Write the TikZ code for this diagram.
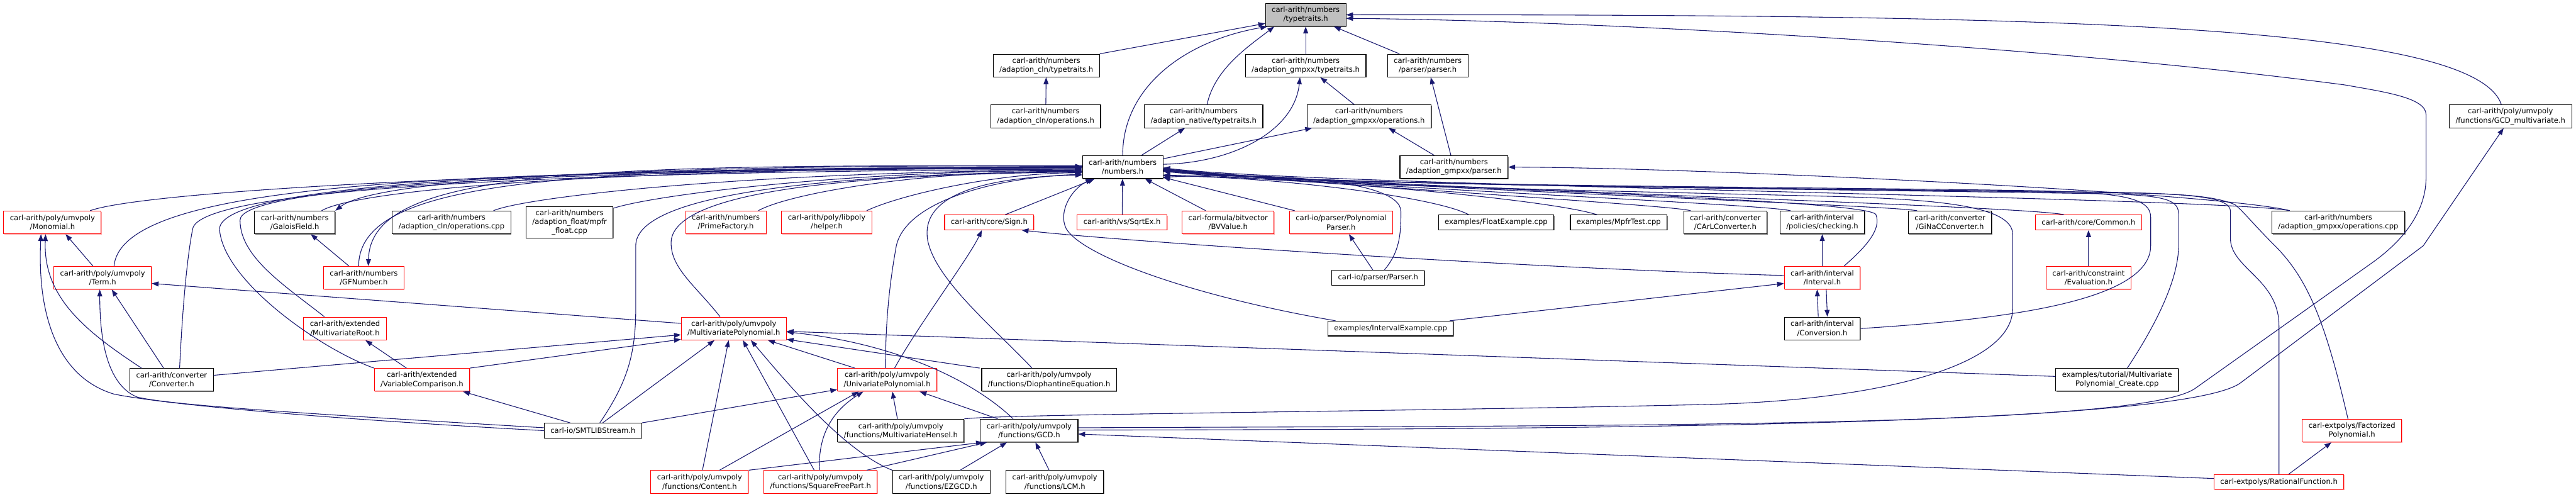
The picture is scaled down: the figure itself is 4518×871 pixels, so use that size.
\documentclass[tikz,border=0pt]{standalone}
\usepackage{fontspec}
\setmainfont{DejaVu Sans}
\usetikzlibrary{calc, arrows.meta, shadows}
\definecolor{navyedge}{RGB}{25,25,112}
\newcommand{\doxfont}{\fontsize{9.6pt}{11.8pt}\selectfont}
\tikzset{
  box/.style={line width=0.9pt, fill=white, align=center, inner xsep=8.25pt, inner ysep=0pt, minimum height=30pt, font=\doxfont},
  file/.style={box, draw=black, drop shadow={shadow xshift=0.9pt, shadow yshift=-0.9pt, fill=black!55, opacity=1}},
  redfile/.style={box, draw=red, drop shadow={shadow xshift=0.9pt, shadow yshift=-0.9pt, fill=red!35, opacity=1}},
  oneline/.style={minimum height=19.5pt},
  threeline/.style={minimum height=41pt},
  edge/.style={draw=navyedge, line width=0.9pt, -{Triangle[length=9pt,width=6.5pt]}},
}
\begin{document}
\begin{tikzpicture}[x=0.75pt, y=0.75pt]
    \fill[white] (0,0) rectangle (4518,871);
    \useasboundingbox (0,0) rectangle (4518,871);

    % Upper levels
    \node[file, fill=black!25] (tt) at (2290,845) {carl-arith/numbers\\/typetraits.h};
    \node[file] (clntt) at (1835,756) {carl-arith/numbers\\/adaption\_cln/typetraits.h};
    \node[file] (gmptt) at (2290,756) {carl-arith/numbers\\/adaption\_gmpxx/typetraits.h};
    \node[file] (parserh) at (2504,756) {carl-arith/numbers\\/parser/parser.h};
    \node[file] (clnops) at (1834,667) {carl-arith/numbers\\/adaption\_cln/operations.h};
    \node[file] (nattt) at (2111,667) {carl-arith/numbers\\/adaption\_native/typetraits.h};
    \node[file] (gmpops) at (2401,667) {carl-arith/numbers\\/adaption\_gmpxx/operations.h};
    \node[file] (gcdmv) at (4403,667) {carl-arith/poly/umvpoly\\/functions/GCD\_multivariate.h};
    \node[file] (num) at (1969,578) {carl-arith/numbers\\/numbers.h};
    \node[file] (gmpparser) at (2550,578) {carl-arith/numbers\\/adaption\_gmpxx/parser.h};

    % Row of direct includers
    \node[redfile] (mono) at (92,481) {carl-arith/poly/umvpoly\\/Monomial.h};
    \node[file] (gf) at (517,481) {carl-arith/numbers\\/GaloisField.h};
    \node[file] (clnopscpp) at (792,481) {carl-arith/numbers\\/adaption\_cln/operations.cpp};
    \node[file, threeline] (mpfr) at (999,481) {carl-arith/numbers\\/adaption\_float/mpfr\\\_float.cpp};
    \node[redfile] (prime) at (1273,481) {carl-arith/numbers\\/PrimeFactory.h};
    \node[redfile] (helper) at (1450,481) {carl-arith/poly/libpoly\\/helper.h};
    \node[redfile, oneline] (sign) at (1735,481) {carl-arith/core/Sign.h};
    \node[redfile, oneline] (sqrtex) at (1968,481) {carl-arith/vs/SqrtEx.h};
    \node[redfile] (bvvalue) at (2154,481) {carl-formula/bitvector\\/BVValue.h};
    \node[redfile] (polyparser) at (2352,481) {carl-io/parser/Polynomial\\Parser.h};
    \node[file, oneline] (floatex) at (2624,481) {examples/FloatExample.cpp};
    \node[file, oneline] (mpfrtest) at (2839,481) {examples/MpfrTest.cpp};
    \node[file] (carlconv) at (3026,481) {carl-arith/converter\\/CArLConverter.h};
    \node[file] (checking) at (3196,481) {carl-arith/interval\\/policies/checking.h};
    \node[file] (ginac) at (3420,481) {carl-arith/converter\\/GiNaCConverter.h};
    \node[redfile, oneline] (common) at (3663,481) {carl-arith/core/Common.h};
    \node[file] (gmpopscpp) at (4101,481) {carl-arith/numbers\\/adaption\_gmpxx/operations.cpp};

    % Lower levels
    \node[redfile] (term) at (180,384) {carl-arith/poly/umvpoly\\/Term.h};
    \node[redfile] (gfn) at (638,384) {carl-arith/numbers\\/GFNumber.h};
    \node[file, oneline] (parser) at (2417,384) {carl-io/parser/Parser.h};
    \node[redfile] (interval) at (3196,384) {carl-arith/interval\\/Interval.h};
    \node[redfile] (eval) at (3663,384) {carl-arith/constraint\\/Evaluation.h};
    \node[redfile] (mvroot) at (605,295) {carl-arith/extended\\/MultivariateRoot.h};
    \node[redfile] (mvpoly) at (1287,295) {carl-arith/poly/umvpoly\\/MultivariatePolynomial.h};
    \node[file, oneline] (intex) at (2439,295) {examples/IntervalExample.cpp};
    \node[file] (conversion) at (3196,295) {carl-arith/interval\\/Conversion.h};
    \node[file] (conv) at (301,205) {carl-arith/converter\\/Converter.h};
    \node[redfile] (varcomp) at (740,205) {carl-arith/extended\\/VariableComparison.h};
    \node[redfile] (upoly) at (1556,205) {carl-arith/poly/umvpoly\\/UnivariatePolynomial.h};
    \node[file] (dioph) at (1840,205) {carl-arith/poly/umvpoly\\/functions/DiophantineEquation.h};
    \node[file] (create) at (3713,205) {examples/tutorial/Multivariate\\Polynomial\_Create.cpp};
    \node[file, oneline] (smtlib) at (1040,116) {carl-io/SMTLIBStream.h};
    \node[file] (hensel) at (1580,116) {carl-arith/poly/umvpoly\\/functions/MultivariateHensel.h};
    \node[file] (gcd) at (1805,116) {carl-arith/poly/umvpoly\\/functions/GCD.h};
    \node[redfile] (factpoly) at (4125,116) {carl-extpolys/Factorized\\Polynomial.h};
    \node[redfile] (content) at (1227,26) {carl-arith/poly/umvpoly\\/functions/Content.h};
    \node[redfile] (sqfree) at (1439,26) {carl-arith/poly/umvpoly\\/functions/SquareFreePart.h};
    \node[file] (ezgcd) at (1651,26) {carl-arith/poly/umvpoly\\/functions/EZGCD.h};
    \node[file] (lcm) at (1850,26) {carl-arith/poly/umvpoly\\/functions/LCM.h};
    \node[redfile, oneline] (ratfun) at (3997,26) {carl-extpolys/RationalFunction.h};

    % Edges around typetraits.h
    \draw[edge] (clntt.north east) -- (tt.192);
    \draw[edge] (num.north) .. controls (1969,720) and (2080,800) .. (tt.197);
    \draw[edge] ($(nattt.north)+(6,0)$) .. controls (2130,750) and (2190,790) .. ($(tt.south west)+(16,0)$);
    \draw[edge] (gmptt) -- (tt);
    \draw[edge] (parserh) -- (tt);
    \draw[edge] ($(gcdmv.north)+(-16,0)$) .. controls (4340,830) and (3600,846) .. (tt.east);
    \draw[edge] (clnops) -- (clntt);
    \draw[edge] (num) -- (nattt);
    \draw[edge] (num) -- (gmpops);
    \draw[edge] (num.4) .. controls (2160,585) and (2270,640) .. ($(gmptt.south)+(-10,0)$);
    \draw[edge] (gmpops) -- (gmptt);
    \draw[edge] (gmpparser) -- (gmpops);
    \draw[edge] (gmpparser) -- (parserh);
    \draw[edge] ($(gcd.east)+(0,5)$) .. controls (2800,125) and (3750,120) .. (3850,190) -- (4160,410) .. controls (4215,449) and (4255,500) .. (4255,560) -- (4255,670) .. controls (4255,700) and (4180,710) .. (4113,722) .. controls (3600,790) and (2800,835) .. (tt.355);
    \draw[edge] ($(gcd.east)+(0,1)$) .. controls (2800,118) and (3830,125) .. (3930,200) -- (4250,440) -- ($(gcdmv.south)+(-12,0)$);

    % Left bundle into numbers.h
    \draw[edge] ($(mono.north)+(66,0)$) .. controls (250,535) and (900,575) .. (num.179);
    \draw[edge] ($(term.north)+(20,0)$) .. controls (215,560) and (850,572) .. (num.181);
    \draw[edge] ($(conv.north)+(14,0)$) .. controls (320,330) and (328,420) .. (338,470) .. controls (350,530) and (800,570) .. (num.183);
    \draw[edge] (varcomp.north west) .. controls (560,260) and (390,380) .. (385,470) .. controls (390,545) and (900,578) .. (num.180);
    \draw[edge] ($(mvroot.north)+(-36,0)$) .. controls (500,370) and (421,420) .. (421,485) .. controls (421,540) and (900,575) .. (num.182);
    \draw[edge] ($(gf.north east)+(-24,0)$) .. controls (620,535) and (1000,575) .. (num.180);
    \draw[edge] (num.178) .. controls (1000,582) and (650,550) .. (gf.north east);
    \draw[edge] ($(gfn.north)+(-9,0)$) .. controls (630,560) and (1000,578) .. (num.181);
    \draw[edge] (num.179) .. controls (1000,585) and (650,570) .. ($(gfn.north)+(8,0)$);
    \draw[edge] ($(gfn.north)+(-26,0)$) -- ($(gf.south)+(28,0)$);
    \draw[edge] ($(clnopscpp.north east)+(-31,0)$) .. controls (920,525) and (1300,570) .. (num.184);
    \draw[edge] ($(mpfr.north east)+(0,-3)$) .. controls (1150,530) and (1500,573) .. (num.185);
    \draw[edge] ($(prime.north)+(57,0)$) .. controls (1380,530) and (1600,572) .. (num.186);
    \draw[edge] ($(helper.north)+(70,0)$) .. controls (1580,530) and (1750,568) .. (num.188);
    \draw[edge] ($(smtlib.north)+(12,0)$) .. controls (1100,200) and (1115,250) .. (1115,330) -- (1115,440) .. controls (1115,525) and (1400,565) .. (num.186);
    \draw[edge] ($(mvpoly.north)+(-24,0)$) .. controls (1220,370) and (1177,400) .. (1177,445) .. controls (1177,530) and (1450,565) .. (num.187);
    \draw[edge] ($(upoly.north)+(-3,0)$) .. controls (1553,330) and (1565,400) .. (1572,440) .. controls (1590,520) and (1750,560) .. (num.190);
    \draw[edge] ($(dioph.north)+(-30,0)$) .. controls (1750,290) and (1640,380) .. (1627,450) .. controls (1615,520) and (1700,560) .. (num.191);

    % Below numbers.h
    \draw[edge] ($(sign.north)+(28,0)$) -- ($(num.south west)+(22,0)$);
    \draw[edge] (sqrtex) -- (num);
    \draw[edge] (bvvalue) -- (num);
    \draw[edge] (polyparser) -- (num);
    \draw[edge] ($(intex.north west)+(14,0)$) .. controls (2100,350) and (1900,420) .. (1870,470) .. controls (1855,500) and (1880,540) .. ($(num.south west)+(18,0)$);
    \draw[edge] ($(upoly.north)+(13,0)$) .. controls (1610,300) and (1700,420) .. ($(sign.south)+(-13,0)$);
    \draw[edge] ($(interval.west)+(0,4)$) .. controls (2700,400) and (2000,445) .. ($(sign.south east)+(-22,0)$);
    \draw[edge] (parser) -- (polyparser);
    \draw[edge] ($(parser.north)+(11,0)$) .. controls (2455,430) and (2457,460) .. (2457,500) .. controls (2457,560) and (2200,568) .. (num.346);

    % Right bundle into numbers.h, passing below adaption_gmpxx/parser.h
    \draw[edge] ($(floatex.north)+(-48,0)$) .. controls (2520,525) and (2250,560) .. (num.348);
    \draw[edge] ($(mpfrtest.north)+(-38,0)$) .. controls (2720,520) and (2350,555) .. (num.349);
    \draw[edge] ($(carlconv.north west)+(13,0)$) .. controls (2930,512) and (2300,548) .. (num.357);
    \draw[edge] ($(checking.north west)+(19,0)$) .. controls (3090,514) and (2300,546) .. (num.357);
    \draw[edge] ($(ginac.north west)+(16,0)$) .. controls (3310,512) and (2300,546) .. (num.358);
    \draw[edge] ($(common.north)+(-43,0)$) .. controls (3540,512) and (2300,545) .. (num.358);
    \draw[edge] ($(gmpopscpp.north west)+(32,0)$) .. controls (3900,525) and (2300,545) .. (num.359);
    \draw[edge] ($(gmpopscpp.north west)+(32,0)$) .. controls (3900,532) and (3000,577) .. (gmpparser.east);
    \draw[edge] ($(interval.north east)+(-29,0)$) .. controls (3275,440) and (3300,470) .. (3290,495) .. controls (3270,525) and (2300,545) .. (num.356);
    \draw[edge] (conversion.east) .. controls (3500,310) and (3772,340) .. (3772,440) -- (3772,490) .. controls (3772,525) and (3720,534) .. (3550,537) .. controls (3000,545) and (2300,545) .. (num.356);
    \draw[edge] ($(create.north)+(18,0)$) .. controls (3780,300) and (3821,380) .. (3821,441) -- (3821,495) .. controls (3821,520) and (3800,528) .. (3700,531) .. controls (3200,540) and (2300,545) .. (num.355);
    \draw[edge] (ratfun.north) -- (3997,300) .. controls (3997,380) and (3915,400) .. (3912,450) -- (3912,500) .. controls (3912,525) and (3850,531) .. (3700,534) .. controls (3100,542) and (2300,545) .. (num.355);
    \draw[edge] ($(factpoly.north)+(-7,0)$) .. controls (4080,300) and (4050,380) .. (3990,440) .. controls (3950,480) and (3935,500) .. (3920,512) .. controls (3880,530) and (3800,532) .. (3700,533) .. controls (3100,541) and (2300,545) .. (num.356);
    \draw[edge] (hensel.north east) .. controls (1750,145) and (2500,150) .. (3000,162) .. controls (3300,170) and (3530,230) .. (3530,330) -- (3530,460) .. controls (3530,510) and (3400,522) .. (3200,527) .. controls (2800,537) and (2300,545) .. (num.354);

    % Polynomial part
    \draw[edge] ($(mvpoly.west)+(0,9)$) -- ($(term.east)+(0,-10)$);
    \draw[edge] ($(conv.north west)+(21,0)$) .. controls (150,290) and (75,350) .. ($(mono.south)+(-12,0)$);
    \draw[edge] (smtlib.west) .. controls (600,135) and (300,160) .. (200,180) .. controls (100,210) and (65,320) .. ($(mono.south)+(-20,0)$);
    \draw[edge] ($(term.north)+(-17,0)$) -- ($(mono.south)+(23,0)$);
    \draw[edge] ($(conv.north)+(-14,0)$) -- ($(term.south)+(16,0)$);
    \draw[edge] ($(smtlib.west)+(0,5)$) .. controls (550,145) and (300,160) .. (240,175) .. controls (180,200) and (175,300) .. ($(term.south)+(-5,0)$);
    \draw[edge] ($(conv.east)+(0,8)$) -- ($(mvpoly.west)+(0,-11)$);
    \draw[edge] (varcomp.north east) -- ($(mvpoly.west)+(0,-19)$);
    \draw[edge] ($(varcomp.north)+(-27,0)$) -- ($(mvroot.south)+(36,0)$);
    \draw[edge] ($(smtlib.north)+(-40,0)$) -- ($(varcomp.south east)+(-12,0)$);
    \draw[edge] ($(smtlib.north)+(17,0)$) -- ($(mvpoly.south)+(-34,0)$);
    \draw[edge] (smtlib.north east) -- ($(upoly.west)+(0,-17)$);
    \draw[edge] ($(content.north)+(5,0)$) -- ($(mvpoly.south)+(-9,0)$);
    \draw[edge] ($(sqfree.north)+(-11,0)$) -- ($(mvpoly.south)+(16,0)$);
    \draw[edge] (ezgcd.north west) .. controls (1480,80) and (1380,200) .. ($(mvpoly.south)+(30,0)$);
    \draw[edge] ($(upoly.north west)+(31,0)$) -- ($(mvpoly.south east)+(-33,0)$);
    \draw[edge] ($(gcd.north)+(-28,0)$) .. controls (1700,210) and (1560,270) .. ($(mvpoly.east)+(0,-6)$);
    \draw[edge] ($(dioph.north west)+(-3,0)$) -- ($(mvpoly.east)+(0,-19)$);
    \draw[edge] ($(create.west)+(0,6)$) -- ($(mvpoly.east)+(0,-5)$);
    \draw[edge] ($(gcd.north)+(-55,0)$) -- ($(upoly.south)+(57,0)$);
    \draw[edge] ($(hensel.north)+(-6,0)$) -- ($(upoly.south)+(9,0)$);
    \draw[edge] ($(content.north)+(35,0)$) -- ($(upoly.south)+(-50,0)$);
    \draw[edge] ($(sqfree.north)+(-2,0)$) .. controls (1435,110) and (1460,150) .. ($(upoly.south)+(-42,0)$);
    \draw[edge] (content.north east) -- ($(gcd.south west)+(5,0)$);
    \draw[edge] ($(sqfree.north east)+(-19,0)$) -- ($(gcd.south west)+(12,0)$);
    \draw[edge] ($(ezgcd.north)+(33,0)$) -- ($(gcd.south)+(-39,0)$);
    \draw[edge] ($(lcm.north)+(-10,0)$) -- ($(gcd.south)+(11,0)$);
    \draw[edge] ($(ratfun.west)+(0,6)$) -- ($(gcd.east)+(0,-6)$);
    \draw[edge] ($(ratfun.north)+(17,0)$) -- ($(factpoly.south)+(-36,0)$);

    % Interval part
    \draw[edge] (eval) -- (common);
    \draw[edge] (interval) -- (checking);
    \draw[edge] ($(conversion.north)+(-7,0)$) -- ($(interval.south)+(-9,0)$);
    \draw[edge] ($(interval.south)+(7,0)$) -- ($(conversion.north)+(9,0)$);
    \draw[edge] ($(intex.north east)+(-7,0)$) -- ($(interval.west)+(0,-10)$);
\end{tikzpicture}
\end{document}
